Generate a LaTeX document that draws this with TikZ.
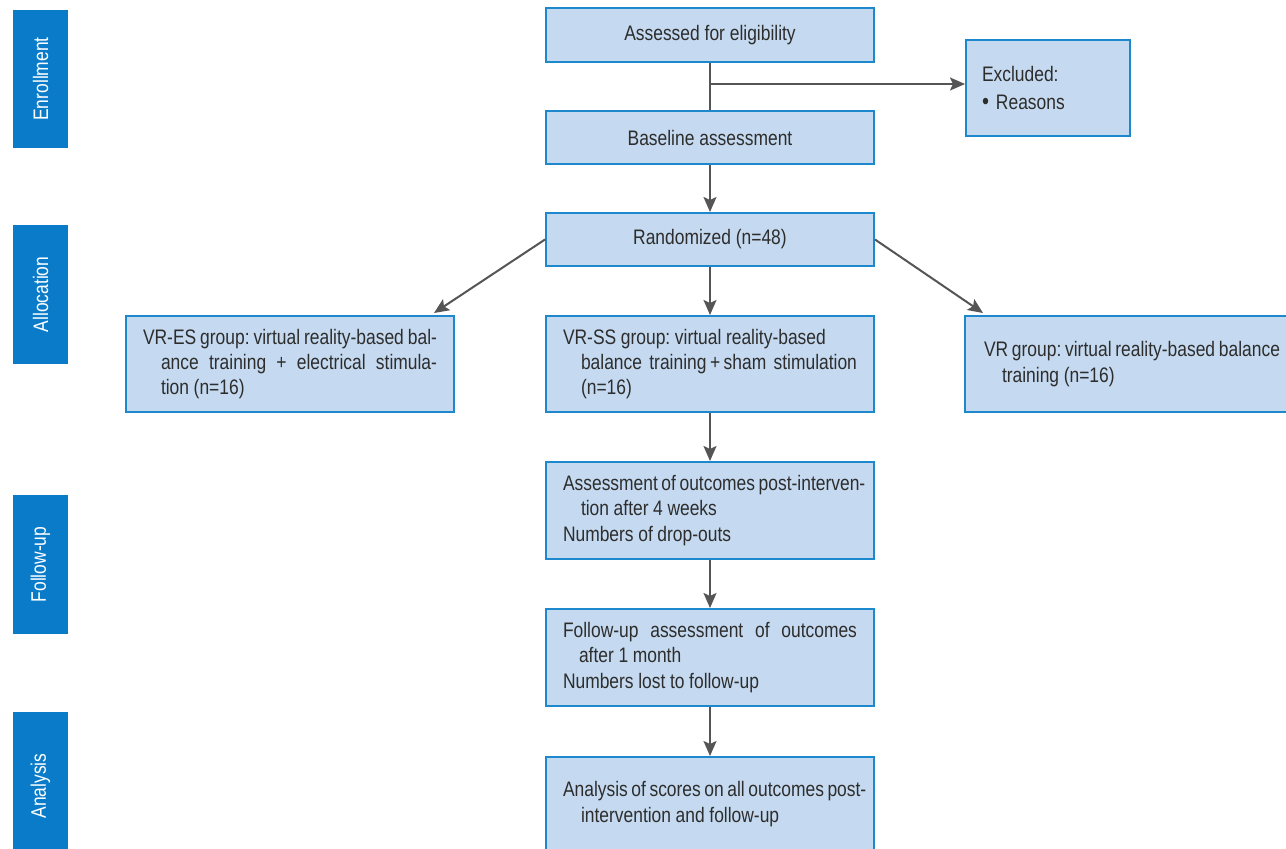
\documentclass[tikz,border=0pt]{standalone}
\usepackage{fontspec}
\setmainfont{Liberation Sans}[FakeStretch=0.83]
\usepackage{xcolor}
\usetikzlibrary{arrows.meta}

\definecolor{barblue}{RGB}{10,123,200}
\definecolor{boxfill}{RGB}{197,218,240}
\definecolor{boxline}{RGB}{30,136,205}
\definecolor{arrowgray}{RGB}{85,85,85}
\definecolor{textgray}{RGB}{45,45,45}

% full justified line, and indented justified line
\newcommand{\fullln}[1]{\makebox[\linewidth][s]{#1}}
\newcommand{\indln}[1]{\hspace*{9pt}\makebox[\dimexpr\linewidth-9pt][s]{#1}}
\newcommand{\stagetext}[1]{\rotatebox{90}{#1}}

\tikzset{
  stage/.style={fill=barblue,draw=none,minimum width=27.5pt,
    text=white,inner sep=0pt},
  stepbox/.style={draw=boxline,fill=boxfill,line width=1pt,
    text=textgray,minimum width=164pt,inner sep=0pt},
  longbox/.style={stepbox,text width=147pt,inner xsep=8.5pt,
    execute at begin node={\raggedright\frenchspacing
      \spaceskip=0.22em plus 0.4em minus 0.05em\relax}},
  link/.style={draw=arrowgray,line width=1pt}
}

\begin{document}
\begin{tikzpicture}[x=0.5pt,y=-0.5pt,
    >={Stealth[length=7.5pt,width=6.5pt,inset=1.5pt]},
    font=\fontsize{10.5}{12.7}\selectfont]
\useasboundingbox (0,0) rectangle (1286,848);

    % stages at the left
    \node[stage,minimum height=69pt] (enrol) at (40.5,79)
        {\stagetext{Enrollment}};
    \node[stage,minimum height=69.5pt] (alloc) at (40.5,294.5)
        {\stagetext{Allocation}};
    \node[stage,minimum height=69.5pt] (follow) at (40.5,564.5)
        {\stagetext{Follow-up}};
    \node[stage,minimum height=74pt] (analys) at (40.5,786)
        {\stagetext{Analysis}};

    % main column
    \node[stepbox,minimum height=27pt] (assess) at (710,35)
        {Assessed for eligibility};
    \node[stepbox,minimum height=26.5pt] (base) at (710,137.5)
        {Baseline assessment};
    \node[stepbox,minimum height=26.5pt] (rand) at (710,239.5)
        {Randomized (n=48)};
    \node[longbox,minimum width=82pt,minimum height=48pt,
          text width=66pt,inner xsep=8pt] (excl) at (1048,88)
        {Excluded:\\[1pt]{\large\textbullet}\hspace{3.5pt}Reasons};

    % groups
    \node[longbox,minimum height=48pt] (vres) at (290,364)
        {\fullln{VR-ES group: virtual reality-based bal-}\\
         \indln{ance training + electrical stimula-}\\
         \hspace*{9pt}tion (n=16)};
    \node[longbox,minimum height=48pt] (vrss) at (710,364)
        {VR-SS group: virtual reality-based\\
         \indln{balance training\,+\,sham stimulation}\\
         \hspace*{9pt}(n=16)};
    \node[longbox,minimum height=48pt,minimum width=166pt,
          text width=148pt,inner xsep=9.5pt] (vr) at (1132,364)
        {\fullln{VR group: virtual reality-based balance}\\
         \hspace*{9pt}training (n=16)};

    % follow-up and analysis
    \node[longbox,minimum height=48.5pt] (post) at (710,510.5)
        {\fullln{Assessment of outcomes post-interven-}\\
         \hspace*{9pt}tion after 4 weeks\\
         Numbers of drop-outs};
    \node[longbox,minimum height=48.5pt] (fup) at (710,657.5)
        {\fullln{Follow-up assessment of outcomes}\\
         \hspace*{8pt}after 1 month\\
         Numbers lost to follow-up};
    \node[longbox,minimum height=47pt] (anal) at (710,804)
        {\fullln{Analysis of scores on all outcomes post-}\\
         \hspace*{9pt}intervention and follow-up};

    % connectors
    \coordinate (split) at (710,84);
    \draw[link] (assess) -- (base);
    \draw[link,->] (split) -- (split -| excl.west);
    \draw[link,->] (base) -- (rand);
    \draw[link,->] (rand.west) -- ([xshift=-10.5pt,yshift=1pt]vres.north east);
    \draw[link,->] (rand.east) -- ([xshift=9.5pt,yshift=1pt]vr.north west);
    \draw[link,->] (rand) -- (vrss);
    \draw[link,->] (vrss) -- (post);
    \draw[link,->] (post) -- (fup);
    \draw[link,->] (fup) -- (anal);
\end{tikzpicture}
\end{document}
